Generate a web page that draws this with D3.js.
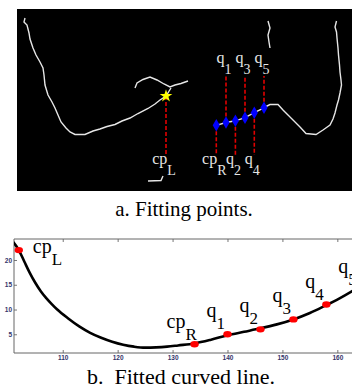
<!DOCTYPE html>
<html>
<head>
<meta charset="utf-8">
<script src="https://cdn.jsdelivr.net/npm/d3@7"></script>
<style>
  body { margin: 0; background: #fff; }
  svg { display: block; }
</style>
</head>
<body>
<svg id="fig" width="352" height="389"></svg>
<script>
// ---- panel a: edge image, coords in image pixels (335 x 182) ----
const leftEdge = [[8,9],[7,13],[10,16],[12,24],[13,30],[16,39],[19,46],[23,53],[26,59],[27,66],[28,76],[31,86],[35,93],[38,99],[41,106],[44,113],[49,119],[53,123],[58,125.5],[68,125.5],[76,122],[83,120],[90,117.5],[98,115.5],[105,112],[113,109],[121,104.5],[131,99.5],[138,95],[143,91],[149,87],[154,79]];
const leftBranch = [[118,79],[120,74],[126,70.5],[133,68],[140,71],[147,75],[153,78],[158,76],[164,74.5],[171,72]];
const smallEdge = [[131,172],[144,171.5],[146,167]];
const rightTopEdge = [[251,12],[253,19],[251,26],[252,33],[253,39]];
const rightEdge = [[247,98.5],[253,95.5],[261,95.5],[266,101],[271,106],[276,111],[283,118],[289,124.5],[299,125.5],[306,121],[313,116],[316,110],[318,104],[320,96],[321.5,91],[323,84],[324.5,76],[324,71],[323,63],[322.5,56],[321.5,46],[321,39],[320,29],[319.5,23],[318,18],[319.5,12]];

const imgNames = ["cp", "cp", "q", "q", "q", "q", "q"];
const imgSubs  = ["L", "R", "1", "2", "3", "4", "5"];
const imgX = [149, 199.3, 209, 218.4, 228, 237.3, 247];
const imgY = [87, 116.3, 113.5, 111.8, 108.7, 103.7, 98.8];
const imgLabelUp = [false, false, true, false, true, false, true];

// ---- panel b: fitted curve ----
const curveX = [101, 102, 103, 104, 105, 106, 107, 108, 109, 111, 113, 115, 117, 119, 121, 123, 125, 127, 129, 131, 134, 137, 140, 143, 146, 149, 152, 155, 158, 160, 163, 165];
const curveY = [23.6, 22.0, 19.7, 17.4, 15.4, 13.7, 12.3, 11.1, 10.0, 8.2, 6.6, 5.3, 4.3, 3.5, 2.9, 2.5, 2.3, 2.35, 2.5, 2.75, 3.15, 3.9, 4.8, 5.5, 6.2, 7.0, 8.0, 9.3, 10.9, 12.0, 13.9, 15.3];
const fitNames = ["cp", "cp", "q", "q", "q", "q", "q"];
const fitSubs  = ["L", "R", "1", "2", "3", "4", "5"];
const fitX = [102, 134, 140, 146, 152, 158, 164];
const fitY = [22, 3, 5, 6, 8, 11, 14];
const xTicks = [110, 120, 130, 140, 150, 160];
const yTicks = [5, 10, 15, 20];

const svg = d3.select("#fig");
const serif = "'Liberation Serif', 'Times New Roman', serif";

// ================= panel a =================
const imgW = 335, imgH = 182;
const ix = d3.scaleLinear().domain([0, imgW]).range([17, 17 + imgW]);
const iy = d3.scaleLinear().domain([0, imgH]).range([9, 9 + imgH]);

const gA = svg.append("g");
gA.append("rect")
  .attr("x", ix(0)).attr("y", iy(0))
  .attr("width", ix(imgW) - ix(0)).attr("height", iy(imgH) - iy(0))
  .attr("fill", "#000");

const edgeLine = d3.line().x(d => ix(d[0])).y(d => iy(d[1]));
const fitPts = imgX.map((x, i) => [x, imgY[i]]);
[leftEdge, leftBranch, smallEdge, rightTopEdge, fitPts.slice(1), rightEdge].forEach(pts => {
  gA.append("path")
    .attr("d", edgeLine(pts))
    .attr("fill", "none")
    .attr("stroke", "#e6e6e6")
    .attr("stroke-width", 1.4);
});

// red dashed guide lines
const lineTop = 67, lineBottom = 146;
imgX.forEach((x, i) => {
  gA.append("line")
    .attr("x1", ix(x)).attr("x2", ix(x))
    .attr("y1", iy(imgY[i]))
    .attr("y2", iy(imgLabelUp[i] ? lineTop : lineBottom))
    .attr("stroke", "#e00000")
    .attr("stroke-width", 1.6)
    .attr("stroke-dasharray", "4,2");
});

// markers
imgX.forEach((x, i) => {
  gA.append("path")
    .attr("transform", `translate(${ix(x)},${iy(imgY[i])})`)
    .attr("d", d3.symbol().type(i === 0 ? d3.symbolStar : d3.symbolDiamond).size(i === 0 ? 50 : 45)())
    .attr("fill", i === 0 ? "#ffff00" : "#0000ff");
});

// labels
imgX.forEach((x, i) => {
  const up = imgLabelUp[i];
  const t = gA.append("text")
    .attr("x", ix(x) - 2)
    .attr("y", up ? iy(lineTop) - 13 : iy(lineBottom) + 9)
    .attr("text-anchor", "middle")
    .attr("font-family", serif)
    .attr("fill", "#e6e6e6");
  t.append("tspan").attr("font-size", 16).text(imgNames[i]);
  t.append("tspan").attr("font-size", 14).attr("dy", 11).text(imgSubs[i]);
});

svg.append("text")
  .attr("x", 184).attr("y", 216)
  .attr("text-anchor", "middle")
  .attr("font-family", serif)
  .attr("font-size", 21)
  .text("a. Fitting points.");

// ================= panel b =================
const plot = { left: 14, right: 352, top: 239, bottom: 353 };
const x = d3.scaleLinear().domain([101, 165]).range([13.3, 364.8]);
const y = d3.scaleLinear().domain([1.22, 24.24]).range([plot.bottom, plot.top]);

svg.append("clipPath").attr("id", "plotClip")
  .append("rect")
  .attr("x", plot.left).attr("y", plot.top)
  .attr("width", plot.right - plot.left).attr("height", plot.bottom - plot.top);

const gB = svg.append("g");

const tickColor = "#34346a";
const xAxis = gB.append("g")
  .attr("transform", `translate(0,${plot.bottom})`)
  .call(d3.axisBottom(x).tickValues(xTicks).tickSize(-3).tickPadding(2));
const xAxisTop = gB.append("g")
  .attr("transform", `translate(0,${plot.top})`)
  .call(d3.axisTop(x).tickValues(xTicks).tickSize(-3).tickFormat(""));
const yAxis = gB.append("g")
  .attr("transform", `translate(${plot.left},0)`)
  .call(d3.axisLeft(y).tickValues(yTicks).tickSize(-3).tickPadding(2));

[xAxis, xAxisTop, yAxis].forEach(a => {
  a.select(".domain").remove();
  a.selectAll(".tick line").attr("stroke", "#777");
  a.selectAll(".tick text")
    .attr("fill", tickColor)
    .attr("font-family", "'Liberation Sans', Arial, sans-serif")
    .attr("font-size", 6.5)
    .attr("font-weight", "bold");
});

// frame
gB.append("path")
  .attr("d", `M${plot.right},${plot.top}H${plot.left}V${plot.bottom}H${plot.right}`)
  .attr("fill", "none")
  .attr("stroke", "#666")
  .attr("stroke-width", 1);

const gPlot = gB.append("g").attr("clip-path", "url(#plotClip)");

gPlot.append("path")
  .datum(curveX.map((v, i) => [v, curveY[i]]))
  .attr("d", d3.line().x(d => x(d[0])).y(d => y(d[1])).curve(d3.curveMonotoneX))
  .attr("fill", "none")
  .attr("stroke", "#000")
  .attr("stroke-width", 2.6);

gPlot.selectAll("ellipse.fit")
  .data(fitX.map((v, i) => [v, fitY[i]]))
  .enter().append("ellipse")
  .attr("class", "fit")
  .attr("cx", d => x(d[0]))
  .attr("cy", d => y(d[1]))
  .attr("rx", 4.2)
  .attr("ry", 3.2)
  .attr("fill", "#ff0000");

// label offsets relative to each point (px)
const labelOffset = i => i === 0 ? [14, 3] : (i === 1 ? [-28, -16] : [-21, -17]);
fitX.forEach((v, i) => {
  const [dx, dy] = labelOffset(i);
  const t = gPlot.append("text")
    .attr("x", x(v) + dx)
    .attr("y", y(fitY[i]) + dy)
    .attr("font-family", serif)
    .attr("fill", "#000");
  t.append("tspan").attr("font-size", 20).text(fitNames[i]);
  t.append("tspan").attr("font-size", 17).attr("dy", 12).text(fitSubs[i]);
});

svg.append("text")
  .attr("x", 181).attr("y", 384)
  .attr("text-anchor", "middle")
  .attr("font-family", serif)
  .attr("font-size", 22)
  .attr("xml:space", "preserve")
  .style("white-space", "pre")
  .text("b.  Fitted curved line.");
</script>
</body>
</html>
